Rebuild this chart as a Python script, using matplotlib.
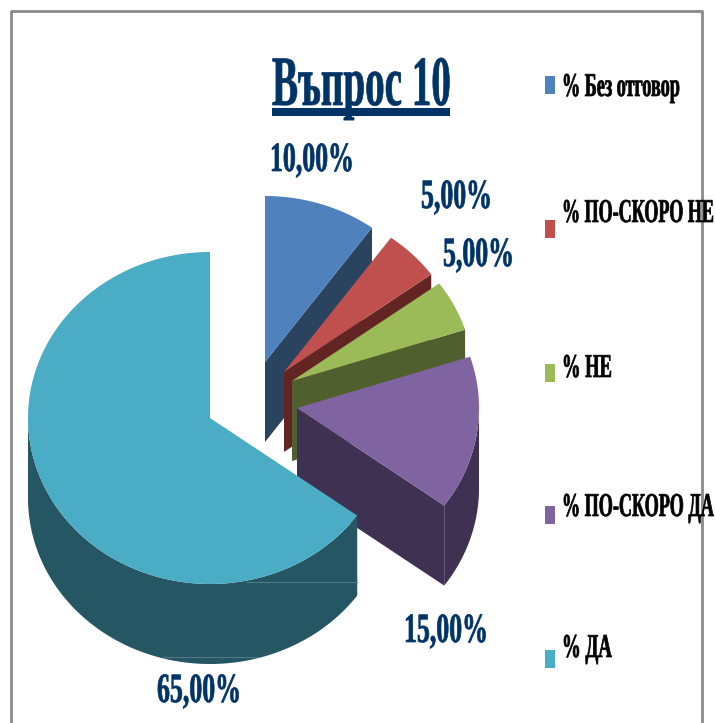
import numpy as np
import matplotlib
matplotlib.use('Agg')
import matplotlib.pyplot as plt
from matplotlib.patches import Rectangle
from matplotlib.patheffects import AbstractPathEffect
from matplotlib.text import Text
from matplotlib.transforms import Affine2D, Bbox

# data
categories = ['% Без отговор', '% ПО-СКОРО НЕ', '% НЕ', '% ПО-СКОРО ДА', '% ДА']
values = [10, 5, 5, 15, 65]
value_labels = ['10,00%', '5,00%', '5,00%', '15,00%', '65,00%']
title = 'Въпрос 10'

# styles and layout, all in pixels of the 715x723 picture
top_colors = ['#4F81BD', '#C0504D', '#9BBB59', '#8064A2', '#4BACC6']
side_colors = ['#2A4460', '#632523', '#4F5F2D', '#3F3151', '#255663']
apex = [(265, 362), (284, 372), (292, 381), (297, 408), (210, 418)]
rx, ry = 182, 166
depth = 80
navy = '#003366'
label_pos = [(270, 171, 84), (421, 208, 71), (443, 266, 71), (404, 642, 84), (157, 702, 84)]
legend_width = [118, 152, 50, 152, 50]
legend_base = [96, 222, 377, 516, 657]
legend_box = [76, 220, 364, 506, 650]


class Squeeze(AbstractPathEffect):
    """the reference font is condensed, squeeze the glyphs around x0."""
    def __init__(self, x0, k, stroke=0.5):
        super().__init__()
        self.x0 = x0
        self.k = k
        self.stroke = stroke

    def draw_path(self, renderer, gc, tpath, affine, rgbFace=None):
        sq = Affine2D().translate(-self.x0, 0).scale(self.k, 1).translate(self.x0, 0)
        # thin outline, squeezing makes the vertical strokes too light
        gc.set_linewidth(self.stroke)
        gc.set_foreground(rgbFace)
        renderer.draw_path(gc, tpath, affine + sq, rgbFace)


class CondensedText(Text):
    """text whose extent follows the squeezed glyphs."""
    k = 1.0

    def get_window_extent(self, renderer=None, dpi=None):
        bb = super().get_window_extent(renderer, dpi)
        return Bbox.from_extents(bb.x0, bb.y0, bb.x0 + bb.width * self.k, bb.y1)


def condensed(ax, x, y, s, size, color, width):
    t = CondensedText(x, y, s, fontsize=size, color=color, fontweight='bold',
                      family='Liberation Serif', ha='left', va='baseline')
    ax.add_artist(t)
    natural = t.get_window_extent(ax.figure.canvas.get_renderer()).width
    x0 = ax.transData.transform((x, y))[0]
    t.k = width / natural
    t.set_path_effects([Squeeze(x0, t.k)])
    return t


def arc(c, a0, a1):
    # a0, a1 in degrees, math direction, y axis of the picture points down
    a = np.radians(np.linspace(a0, a1, 160))
    return c[0] + rx * np.cos(a), c[1] - ry * np.sin(a)


fig = plt.figure(figsize=(7.15, 7.23), dpi=100)
ax = fig.add_axes([0, 0, 1, 1])
ax.set_xlim(0, 715)
ax.set_ylim(723, 0)
ax.axis('off')

# frame, the bottom side is cut off in the reference
ax.plot([11, 11, 702, 702], [723, 11, 11, 723], color='#8A8A8A', lw=2)

# slices, clockwise from 12 o'clock
ends = 90 - 3.6 * np.cumsum(values)
starts = np.r_[90, ends[:-1]]

for c, a0, a1, top, side in zip(apex, starts, ends, top_colors, side_colors):
    # cut face on the clockwise edge
    xe, ye = arc(c, a1, a1)
    ax.fill([c[0], xe[0], xe[0], c[0]], [c[1], ye[0], ye[0] + depth, c[1] + depth],
            color=side, lw=0)
    # outer wall, only the part facing the viewer (lower half of the ellipse)
    lo, hi = max(a1, -180), min(a0, 0)
    if hi > lo:
        xa, ya = arc(c, lo, hi)
        ax.fill(np.r_[xa, xa[::-1]], np.r_[ya, ya[::-1] + depth], color=side, lw=0)
    # top face
    xa, ya = arc(c, a1, a0)
    ax.fill(np.r_[c[0], xa], np.r_[c[1], ya], color=top, lw=0)

# faint seams on the big wall
ax.plot([247, 357], [582, 582], color='#4F7A86', lw=0.8)
ax.plot([163, 258], [657, 657], color='#4F7A86', lw=0.8)

# title
condensed(ax, 272, 105, title, 51, navy, 179)
ax.add_patch(Rectangle((272, 108), 178, 8, color=navy, lw=0))

# value labels
for s, (x, y, w) in zip(value_labels, label_pos):
    condensed(ax, x, y, s, 30, navy, w)

# legend
for s, col, w, yb, yq in zip(categories, top_colors, legend_width, legend_base, legend_box):
    ax.add_patch(Rectangle((545, yq), 10, 18, color=col, lw=0))
    condensed(ax, 562, yb, s, 24, 'black', w)

fig.savefig('out.png', dpi=100)
